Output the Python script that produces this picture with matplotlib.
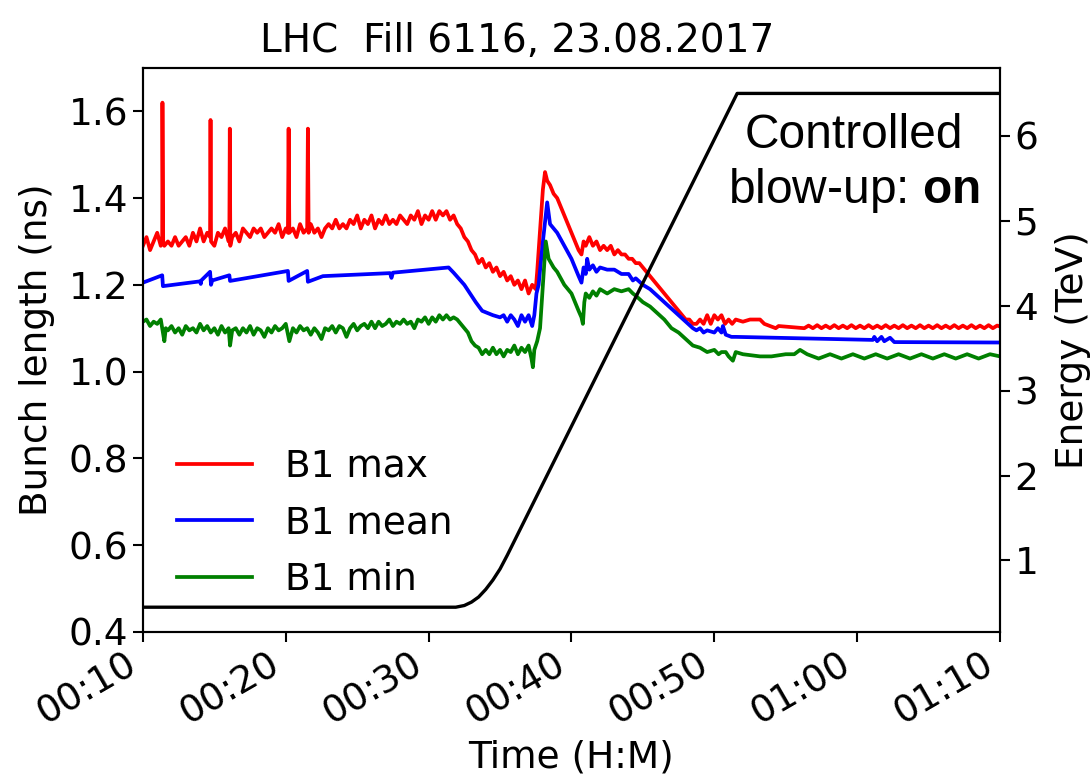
import numpy as np
import matplotlib
matplotlib.use('Agg')
import matplotlib.pyplot as plt
import matplotlib.dates as mdates

# minutes after 00:10 and bunch length values (ns)
t_max = [0.00, 0.25, 0.50, 0.75, 1.00, 1.25, 1.35, 1.38, 1.42, 1.50, 1.75, 2.00, 2.25, 2.50, 2.75,
         3.00, 3.25, 3.50, 3.75, 4.00, 4.25, 4.50, 4.70, 4.74, 4.78, 5.00, 5.25, 5.50, 5.75, 6.00,
         6.05, 6.09, 6.13, 6.25, 6.50, 6.75, 7.00, 7.25, 7.50, 7.75, 8.00, 8.25, 8.50, 8.75, 9.00,
         9.25, 9.50, 9.75, 10.00, 10.15, 10.20, 10.25, 10.50, 10.75, 11.00, 11.25, 11.50, 11.55, 11.60,
         11.75, 12.00, 12.25, 12.50, 12.75, 13.00, 13.25, 13.50, 13.75, 14.00, 14.25, 14.50, 14.75,
         15.00, 15.25, 15.50, 15.75, 16.00, 16.25, 16.50, 16.75, 17.00, 17.25, 17.50, 17.75, 18.00,
         18.25, 18.50, 18.75, 19.00, 19.25, 19.50, 19.75, 20.00, 20.25, 20.50, 20.75, 21.00, 21.25,
         21.50, 21.75, 22.00, 22.25, 22.50, 22.75, 23.00, 23.25, 23.50, 23.75, 24.00, 24.25, 24.50,
         24.75, 25.00, 25.25, 25.50, 25.75, 26.00, 26.25, 26.50, 26.75, 27.00, 27.25, 27.50, 27.60,
         27.75, 28.00, 28.15, 28.30, 28.50, 28.75, 29.00, 29.25, 29.50, 29.75, 30.00, 30.25, 30.50,
         30.70, 30.85, 31.00, 31.25, 31.50, 31.75, 32.00, 32.25, 32.50, 32.75, 33.00, 33.25, 33.50,
         33.75, 34.00, 34.25, 34.50, 34.75, 35.00, 35.25, 35.50, 35.75, 36.00, 36.25, 36.50, 36.75,
         37.00, 37.25, 37.50, 37.75, 38.00, 38.25, 38.50, 38.75, 39.00, 39.25, 39.50, 39.75, 40.00,
         40.25, 40.50, 40.75, 41.00, 41.25, 41.50, 42.00, 42.50, 43.20, 43.50, 44.30, 44.50, 46.30,
         46.60, 46.90, 47.20, 47.50, 47.80, 48.10, 48.40, 48.70, 49.00, 49.30, 49.60, 49.90, 50.20,
         50.50, 50.80, 51.10, 51.40, 51.70, 52.00, 52.30, 52.60, 52.90, 53.20, 53.50, 53.80, 54.10,
         54.40, 54.70, 55.00, 55.30, 55.60, 55.90, 56.20, 56.50, 56.80, 57.10, 57.40, 57.70, 58.00,
         58.30, 58.60, 58.90, 59.20, 59.50, 59.80, 60.00]
b1_max = [1.29, 1.31, 1.28, 1.30, 1.32, 1.29, 1.30, 1.62, 1.30, 1.29, 1.30, 1.29, 1.31, 1.29, 1.30,
          1.31, 1.29, 1.32, 1.30, 1.33, 1.30, 1.32, 1.31, 1.58, 1.30, 1.29, 1.32, 1.31, 1.33, 1.30,
          1.31, 1.56, 1.29, 1.31, 1.32, 1.30, 1.33, 1.32, 1.31, 1.33, 1.32, 1.33, 1.31, 1.32, 1.33,
          1.32, 1.34, 1.31, 1.33, 1.32, 1.56, 1.32, 1.33, 1.31, 1.34, 1.32, 1.33, 1.56, 1.32,
          1.34, 1.32, 1.33, 1.31, 1.33, 1.34, 1.33, 1.35, 1.33, 1.34, 1.33, 1.35, 1.34,
          1.36, 1.33, 1.35, 1.34, 1.36, 1.33, 1.35, 1.34, 1.36, 1.34, 1.35, 1.34, 1.36,
          1.35, 1.34, 1.36, 1.35, 1.37, 1.34, 1.36, 1.35, 1.37, 1.35, 1.37, 1.36, 1.37,
          1.35, 1.36, 1.34, 1.33, 1.31, 1.30, 1.28, 1.27, 1.25, 1.26, 1.24, 1.25, 1.23,
          1.24, 1.22, 1.23, 1.21, 1.22, 1.20, 1.21, 1.19, 1.21, 1.18, 1.20, 1.19, 1.23,
          1.30, 1.42, 1.46, 1.44, 1.43, 1.41, 1.40, 1.38, 1.36, 1.34, 1.32, 1.30, 1.28,
          1.27, 1.30, 1.29, 1.31, 1.29, 1.30, 1.28, 1.29, 1.28, 1.29, 1.27, 1.28, 1.27,
          1.27, 1.26, 1.26, 1.25, 1.25, 1.24, 1.23, 1.22, 1.21, 1.20, 1.19, 1.18, 1.17,
          1.16, 1.15, 1.14, 1.13, 1.12, 1.12, 1.11, 1.11, 1.12, 1.11, 1.13, 1.11, 1.13,
          1.12, 1.13, 1.11, 1.12, 1.11, 1.12, 1.115, 1.12, 1.12, 1.11, 1.10, 1.105, 1.10,
          1.106, 1.10, 1.107, 1.10, 1.106, 1.10, 1.107, 1.10, 1.106, 1.10, 1.107, 1.10, 1.106,
          1.10, 1.107, 1.10, 1.106, 1.10, 1.107, 1.10, 1.106, 1.10, 1.107, 1.10, 1.106, 1.10,
          1.107, 1.10, 1.106, 1.10, 1.107, 1.10, 1.106, 1.10, 1.107, 1.10, 1.106, 1.10, 1.107,
          1.10, 1.106, 1.10, 1.107, 1.10, 1.106, 1.104]

t_mean = [0.00, 1.35, 1.40, 4.00, 4.05, 4.10, 4.70, 4.78, 4.85, 6.05, 6.10, 10.15, 10.20, 11.50,
          11.55, 12.60, 17.30, 17.40, 17.50, 21.40, 21.75, 22.50, 23.30, 23.75, 24.50, 25.00, 25.25,
          25.50, 25.75, 26.00, 26.25, 26.50, 26.75, 27.00, 27.25, 27.40, 27.55, 27.70, 28.00, 28.30,
          28.50, 28.75, 29.00, 29.50, 30.00, 30.50, 30.70, 30.85, 31.00, 31.10, 31.25, 31.50, 31.75,
          32.00, 32.50, 33.00, 33.50, 34.00, 34.30, 34.50, 35.00, 35.50, 36.00, 36.50, 37.00, 37.50,
          38.00, 38.50, 38.75, 39.00, 39.25, 39.50, 40.00, 40.25, 40.50, 40.60, 40.80, 41.20, 41.50,
          51.10, 51.20, 51.40, 51.70, 51.90, 52.30, 52.60, 60.00]
b1_mean = [1.205, 1.222, 1.197, 1.208, 1.202, 1.210, 1.230, 1.200, 1.210, 1.222, 1.209, 1.232, 1.209,
           1.232, 1.207, 1.220, 1.227, 1.216, 1.228, 1.240, 1.228, 1.200, 1.160, 1.140, 1.130, 1.125,
           1.130, 1.115, 1.130, 1.120, 1.105, 1.130, 1.115, 1.130, 1.105, 1.130, 1.180, 1.200, 1.300,
           1.390, 1.340, 1.330, 1.320, 1.290, 1.260, 1.220, 1.205, 1.240, 1.225, 1.260, 1.235, 1.245,
           1.230, 1.240, 1.235, 1.235, 1.225, 1.225, 1.210, 1.215, 1.200, 1.190, 1.175, 1.160, 1.145,
           1.130, 1.115, 1.100, 1.095, 1.100, 1.090, 1.095, 1.090, 1.100, 1.090, 1.105, 1.085, 1.080,
           1.080, 1.073, 1.080, 1.070, 1.080, 1.070, 1.078, 1.068, 1.067]

t_min = [0.00, 0.25, 0.50, 0.75, 1.00, 1.25, 1.40, 1.50, 1.60, 1.75, 2.00, 2.25, 2.50, 2.75, 3.00,
         3.25, 3.50, 3.75, 4.00, 4.25, 4.50, 4.75, 5.00, 5.25, 5.50, 5.75, 6.00, 6.10, 6.25, 6.50,
         6.75, 7.00, 7.25, 7.50, 7.75, 8.00, 8.25, 8.50, 8.75, 9.00, 9.25, 9.50, 9.75, 10.00, 10.25,
         10.50, 10.75, 11.00, 11.25, 11.50, 11.75, 12.00, 12.25, 12.50, 12.75, 13.00, 13.25, 13.50,
         13.75, 14.00, 14.25, 14.50, 14.75, 15.00, 15.25, 15.50, 15.75, 16.00, 16.25, 16.50, 16.75,
         17.00, 17.25, 17.50, 17.75, 18.00, 18.25, 18.50, 18.75, 19.00, 19.25, 19.50, 19.75, 20.00,
         20.25, 20.50, 20.75, 21.00, 21.25, 21.50, 21.75, 22.00, 22.25, 22.50, 22.75, 23.00, 23.25,
         23.50, 23.75, 24.00, 24.25, 24.50, 24.75, 25.00, 25.25, 25.50, 25.75, 26.00, 26.25, 26.50,
         26.75, 27.00, 27.20, 27.30, 27.40, 27.60, 27.80, 28.00, 28.20, 28.40, 28.75, 29.00, 29.50,
         30.00, 30.50, 30.70, 30.80, 30.90, 31.00, 31.25, 31.50, 31.75, 32.00, 32.50, 33.00, 33.50,
         34.00, 34.30, 34.50, 35.00, 35.50, 36.00, 36.50, 37.00, 37.50, 38.00, 38.50, 39.00, 39.50,
         40.00, 40.30, 40.50, 40.80, 41.00, 41.30, 41.50, 42.00, 43.20, 44.00, 45.00, 45.60, 46.00,
         46.50, 47.30, 48.10, 48.90, 49.70, 50.50, 51.30, 52.10, 52.90, 53.70, 54.50, 55.30, 56.10,
         56.90, 57.70, 58.50, 59.30, 60.00]
b1_min = [1.115, 1.120, 1.105, 1.115, 1.110, 1.120, 1.090, 1.070, 1.100, 1.095, 1.105, 1.090, 1.100,
          1.085, 1.105, 1.095, 1.100, 1.090, 1.110, 1.095, 1.105, 1.090, 1.100, 1.085, 1.105, 1.090,
          1.100, 1.060, 1.095, 1.100, 1.085, 1.100, 1.090, 1.105, 1.085, 1.100, 1.095, 1.080, 1.100,
          1.090, 1.105, 1.095, 1.100, 1.110, 1.070, 1.100, 1.090, 1.105, 1.095, 1.100, 1.085, 1.100,
          1.090, 1.075, 1.100, 1.095, 1.105, 1.090, 1.105, 1.100, 1.080, 1.100, 1.110, 1.095, 1.105,
          1.110, 1.100, 1.115, 1.100, 1.115, 1.105, 1.110, 1.120, 1.105, 1.115, 1.110, 1.120, 1.110,
          1.115, 1.100, 1.120, 1.115, 1.125, 1.110, 1.125, 1.115, 1.130, 1.120, 1.130, 1.120, 1.125,
          1.120, 1.110, 1.100, 1.090, 1.070, 1.060, 1.055, 1.040, 1.050, 1.040, 1.055, 1.040, 1.050,
          1.035, 1.050, 1.045, 1.060, 1.040, 1.055, 1.045, 1.060, 1.030, 1.010, 1.050, 1.070, 1.100,
          1.200, 1.300, 1.260, 1.240, 1.230, 1.200, 1.180, 1.140, 1.125, 1.110, 1.160, 1.180, 1.170,
          1.185, 1.175, 1.190, 1.180, 1.190, 1.185, 1.190, 1.180, 1.175, 1.160, 1.150, 1.135, 1.120,
          1.100, 1.090, 1.075, 1.060, 1.055, 1.045, 1.050, 1.040, 1.045, 1.045, 1.035, 1.025, 1.045,
          1.040, 1.035, 1.035, 1.040, 1.040, 1.050, 1.040, 1.030, 1.040, 1.030, 1.040, 1.030, 1.040,
          1.030, 1.040, 1.030, 1.040, 1.030, 1.040, 1.030, 1.040, 1.030, 1.040, 1.035]

# beam energy (TeV)
t_energy = [0.0, 21.9, 22.5, 23.0, 23.5, 24.0, 24.5, 25.0, 25.5, 41.6, 60.0]
energy = [0.45, 0.45, 0.47, 0.51, 0.57, 0.66, 0.77, 0.90, 1.06, 6.50, 6.50]

start = np.datetime64('2017-08-23T00:10:00')


def to_time(minutes):
    return start + (np.array(minutes) * 60).astype('timedelta64[s]')


plt.rcParams['font.size'] = 27
plt.rcParams['mathtext.fontset'] = 'custom'
plt.rcParams['mathtext.rm'] = 'Liberation Sans'
plt.rcParams['mathtext.bf'] = 'Liberation Sans:bold'

fig = plt.figure(figsize=(10.91, 7.81), dpi=100)
ax = fig.add_axes([0.131, 0.191, 0.7856, 0.722])
ax2 = ax.twinx()

ax.plot(to_time(t_max), b1_max, color='red', lw=2.7, label='B1 max')
ax.plot(to_time(t_mean), b1_mean, color='blue', lw=2.7, label='B1 mean')
ax.plot(to_time(t_min), b1_min, color='green', lw=2.7, label='B1 min')
ax2.plot(to_time(t_energy), energy, color='black', lw=2.4)

ax.set_xlim(to_time([0])[0], to_time([60])[0])
ax.set_ylim(0.4, 1.7)
ax.set_yticks([0.4, 0.6, 0.8, 1.0, 1.2, 1.4, 1.6])
ax2.set_ylim(0.16, 6.8)
ax2.set_yticks([1, 2, 3, 4, 5, 6])

ax.xaxis.set_major_locator(mdates.MinuteLocator(byminute=[0, 10, 20, 30, 40, 50]))
ax.xaxis.set_major_formatter(mdates.DateFormatter('%H:%M'))
plt.setp(ax.get_xticklabels(), rotation=30, ha='right')

for a in (ax, ax2):
    a.tick_params(length=7, width=1.5)
    for s in a.spines.values():
        s.set_linewidth(1.5)

ax.set_xlabel('Time (H:M)', labelpad=6)
ax.set_ylabel('Bunch length (ns)', labelpad=10)
ax2.set_ylabel('Energy (TeV)', labelpad=12)

fig.text(0.474, 0.948, 'LHC  Fill 6116, 23.08.2017', ha='center', va='center', fontsize=28)

ax.text(0.83, 0.83, 'Controlled\nblow-up: $\\mathbf{on}$', transform=ax.transAxes,
        ha='center', va='center', fontsize=34.5, family='Liberation Sans', linespacing=1.2)

ax.legend(loc='lower left', bbox_to_anchor=(0.0, 0.0), frameon=False,
          handlelength=2.0, handletextpad=0.9, labelspacing=0.55)

fig.savefig('out.png', dpi=100)
